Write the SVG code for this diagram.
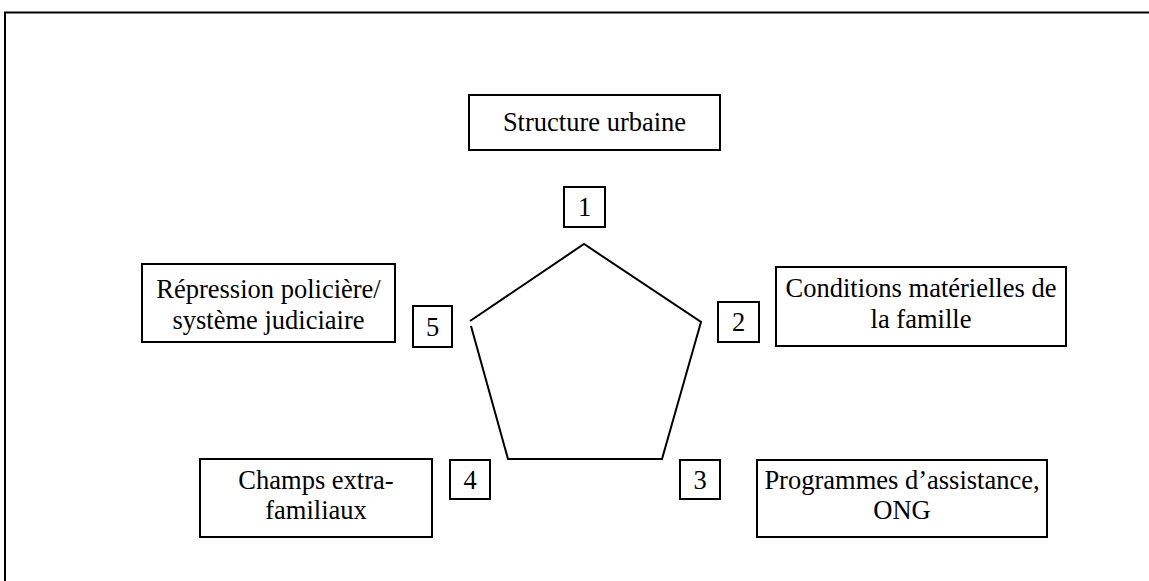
<svg xmlns="http://www.w3.org/2000/svg" width="1149" height="581" viewBox="0 0 1149 581">
<style>
.box{fill:#fff;stroke:#000;stroke-width:2}
.t{font-family:"Liberation Serif","Times New Roman",serif;font-size:26.5px;fill:#000;text-anchor:middle}
.ln{fill:none;stroke:#000;stroke-width:2}
</style>
<rect width="1149" height="581" fill="#fff"/>
<g id="frame"><path class="ln" d="M5,581 V12.5 H1149"/></g>
<g id="connectors">
<path class="ln" d="M470,321 L584,244 L701,322 L662,459 L508,459 L471,326"/>
</g>
<g id="n-structure"><rect class="box" x="469" y="95" width="251" height="55"/><text class="t" x="594.5" y="131">Structure urbaine</text></g>
<g id="num1"><rect class="box" x="564" y="187" width="41" height="40"/><text class="t" x="584.5" y="216">1</text></g>
<g id="n-repression"><rect class="box" x="142" y="264" width="253" height="78"/><text class="t" x="268.5" y="298">Répression policière/</text><text class="t" x="268.5" y="329">système judiciaire</text></g>
<g id="num5"><rect class="box" x="413" y="306" width="39" height="41"/><text class="t" x="432.5" y="336">5</text></g>
<g id="num2"><rect class="box" x="718" y="302" width="41" height="40"/><text class="t" x="738.5" y="331">2</text></g>
<g id="n-conditions"><rect class="box" x="776" y="267" width="290" height="79"/><text class="t" x="921" y="297">Conditions matérielles de</text><text class="t" x="921" y="328">la famille</text></g>
<g id="num4"><rect class="box" x="450" y="460" width="40" height="39"/><text class="t" x="470" y="489">4</text></g>
<g id="n-champs"><rect class="box" x="200" y="459" width="232" height="78"/><text class="t" x="316" y="489">Champs extra-</text><text class="t" x="316" y="519">familiaux</text></g>
<g id="num3"><rect class="box" x="680" y="460" width="40" height="39"/><text class="t" x="700" y="489">3</text></g>
<g id="n-programmes"><rect class="box" x="757" y="460" width="290" height="77"/><text class="t" x="902" y="489">Programmes d’assistance,</text><text class="t" x="902" y="519">ONG</text></g>
</svg>
